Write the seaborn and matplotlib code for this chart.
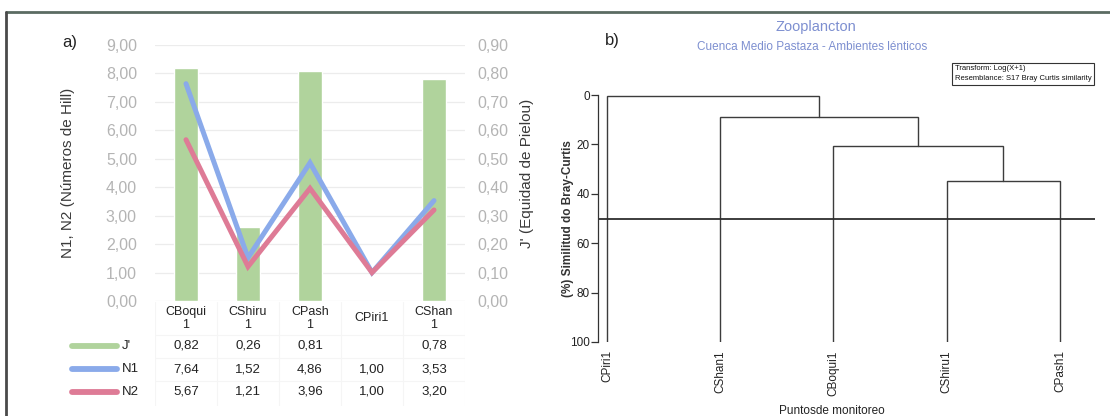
import numpy as np
import pandas as pd
import matplotlib
matplotlib.use("Agg")
import matplotlib.pyplot as plt
import matplotlib.transforms as mtransforms
import seaborn as sns

# ---- Panel a) data: diversity indices per monitoring point ----
puntos = ["CBoqui1", "CShiru1", "CPash1", "CPiri1", "CShan1"]
encabezados = ["CBoqui\n1", "CShiru\n1", "CPash\n1", "CPiri1", "CShan\n1"]
j_pielou = [0.82, 0.26, 0.81, np.nan, 0.78]
n1_hill = [7.64, 1.52, 4.86, 1.00, 3.53]
n2_hill = [5.67, 1.21, 3.96, 1.00, 3.20]
ticks_hill = [0, 1, 2, 3, 4, 5, 6, 7, 8, 9]
ticks_pielou = [0.0, 0.1, 0.2, 0.3, 0.4, 0.5, 0.6, 0.7, 0.8, 0.9]

# ---- Panel b) data: Bray-Curtis cluster (group average) ----
hojas = ["CPiri1", "CShan1", "CBoqui1", "CShiru1", "CPash1"]
# merges as (left member, right member, similarity %); members are leaf names
# or earlier merges ("m<k>")
uniones = [("CShiru1", "CPash1", 35.0),
           ("CBoqui1", "m0", 20.5),
           ("CShan1", "m1", 9.0),
           ("CPiri1", "m2", 0.4)]
corte = 50.0
ticks_sim = [0, 20, 40, 60, 80, 100]

VERDE = "#b0d39c"
AZUL = "#8aaaea"
ROJO = "#de7b96"
GRIS_TICK = "#b4b4b4"
TITULO_B = "#7d8fd0"

sns.set_theme(style="white")
plt.rcParams["font.family"] = ["Liberation Sans", "DejaVu Sans"]

df = pd.DataFrame({"punto": puntos, "J": j_pielou, "N1": n1_hill, "N2": n2_hill})

W, H = 1110, 416
fig = plt.figure(figsize=(W / 100, H / 100), dpi=100)
fig.patch.set_facecolor("white")


def box(x0, y0, x1, y1):
    """Pixel box (top-left origin) -> figure-fraction rect."""
    return [x0 / W, (H - y1) / H, (x1 - x0) / W, (y1 - y0) / H]


def coma(v):
    return f"{v:.2f}".replace(".", ",")


# ---------------- panel a) ----------------
ax_bar = fig.add_axes(box(155, 45, 465, 301))
ax_line = ax_bar.twinx()

sns.barplot(data=df, x="punto", y="J", order=puntos, color=VERDE,
            saturation=1, width=0.38, ax=ax_bar, zorder=2)
ax_bar.set_ylim(0, 0.9)
ax_bar.set_xlim(-0.5, len(puntos) - 0.5)
for v in ticks_pielou:
    ax_bar.axhline(v, color="#ececec", lw=0.9, zorder=0)

sns.lineplot(data=df, x="punto", y="N1", color=AZUL, lw=3.6, ax=ax_line,
             solid_joinstyle="miter")
sns.lineplot(data=df, x="punto", y="N2", color=ROJO, lw=3.6, ax=ax_line,
             solid_joinstyle="miter")
ax_line.set_ylim(0, 9)

# J' scale on the right, Hill numbers on the left
ax_bar.yaxis.tick_right()
ax_bar.yaxis.set_label_position("right")
ax_bar.set_yticks(ticks_pielou)
ax_bar.set_yticklabels([coma(v) for v in ticks_pielou], color=GRIS_TICK,
                       fontsize=11.5)
ax_bar.tick_params(axis="y", length=0, pad=9, left=False, labelleft=False,
                   right=True, labelright=True)
ax_bar.set_ylabel("J' (Equidad de Pielou)", fontsize=11, color="#3a3a3a",
                  labelpad=8)

ax_line.yaxis.tick_left()
ax_line.yaxis.set_label_position("left")
ax_line.set_yticks(ticks_hill)
ax_line.set_yticklabels([coma(v) for v in ticks_hill], color=GRIS_TICK,
                        fontsize=11.5)
ax_line.tick_params(axis="y", length=0, pad=13, right=False,
                    labelright=False, left=True, labelleft=True)
ax_line.set_ylabel("N1, N2 (Números de Hill)", fontsize=11, color="#3a3a3a",
                   labelpad=22)

for a in (ax_bar, ax_line):
    a.set_xlabel("")
    a.set_xticks([])
    for s in a.spines.values():
        s.set_visible(False)

fig.text(62 / W, 1 - 42 / H, "a)", fontsize=12, color="#222222",
         ha="left", va="center")

# data table under the chart
ax_tab = fig.add_axes(box(155, 302, 465, 406))
ax_tab.set_xlim(-0.5, len(puntos) - 0.5)
ax_tab.set_ylim(4, 0)
ax_tab.axis("off")
fil_y = [0.62, 1.69, 2.58, 3.46]
for i, lab in enumerate(encabezados):
    ax_tab.text(i, fil_y[0], lab, ha="center", va="center", fontsize=9,
                color="#222222", linespacing=1.1)
filas = [("J'", j_pielou, VERDE), ("N1", n1_hill, AZUL), ("N2", n2_hill, ROJO)]
trans = mtransforms.blended_transform_factory(fig.transFigure, ax_tab.transData)
for r, (nombre, vals, col) in enumerate(filas):
    y = fil_y[r + 1]
    for i, v in enumerate(vals):
        if not np.isnan(v):
            ax_tab.text(i, y, coma(v), ha="center", va="center",
                        fontsize=9.5, color="#222222")
    ax_tab.plot([72 / W, 117 / W], [y, y], color=col, lw=4.2,
                solid_capstyle="round", transform=trans, clip_on=False)
    ax_tab.text(122 / W, y, nombre, ha="left", va="center", fontsize=9.5,
                color="#222222", transform=trans, clip_on=False)
# faint cell rules
for k in range(len(puntos) + 1):
    ax_tab.axvline(k - 0.5, color="#f5f5f5", lw=0.8)
for y in (1.25, 2.15, 3.02):
    ax_tab.axhline(y, color="#f5f5f5", lw=0.8)

# ---------------- panel b) ----------------
ax_d = fig.add_axes(box(598, 95, 1095, 342))
pos = {h: float(i) for i, h in enumerate(hojas)}
alt = {h: 100.0 for h in hojas}
LC = "#3c3c3c"
for k, (a, b, s) in enumerate(uniones):
    xa, xb = pos[a], pos[b]
    ax_d.plot([xa, xa, xb, xb], [alt[a], s, s, alt[b]], color=LC, lw=1.0,
              solid_joinstyle="miter")
    pos[f"m{k}"] = (xa + xb) / 2
    alt[f"m{k}"] = s
ax_d.axhline(corte, color="#2e2e2e", lw=1.3)
ax_d.set_ylim(100, 0)
ax_d.set_xlim(-0.08, len(hojas) - 1 + 0.31)
ax_d.set_yticks(ticks_sim)
ax_d.set_yticklabels([str(t) for t in ticks_sim], fontsize=8.5,
                     color="#222222")
ax_d.tick_params(axis="y", direction="out", length=5, width=0.9,
                 color="#333333", pad=1, left=True)
ax_d.set_xticks(range(len(hojas)))
ax_d.set_xticklabels(hojas, rotation=90, fontsize=8.5, color="#222222")
ax_d.tick_params(axis="x", length=0, pad=6)
for side in ("top", "right", "bottom"):
    ax_d.spines[side].set_visible(False)
ax_d.spines["left"].set_color("#333333")
ax_d.spines["left"].set_linewidth(0.9)
ax_d.set_ylabel("(%) Similitud do Bray-Curtis", fontsize=8.5,
                fontweight="bold", color="#333333", labelpad=-3)
ax_d.set_xlabel("Puntosde monitoreo", fontsize=8.5, color="#222222")
ax_d.xaxis.set_label_coords(0.47, -0.255)

fig.text(605 / W, 1 - 40 / H, "b)", fontsize=12, color="#222222",
         ha="left", va="center")
fig.text(816 / W, 1 - 27 / H, "Zooplancton", fontsize=10.5,
         color=TITULO_B, ha="center", va="center")
fig.text(812 / W, 1 - 47 / H, "Cuenca Medio Pastaza - Ambientes lénticos",
         fontsize=8.5, color=TITULO_B, ha="center", va="center")
fig.text(955 / W, 1 - 74 / H,
         "Transform: Log(X+1)\nResemblance: S17 Bray Curtis similarity",
         fontsize=5.5, color="#111111", ha="left", va="center",
         linespacing=1.6,
         bbox=dict(boxstyle="square,pad=0.35", fc="white", ec="#333333", lw=0.8))

# outer frame lines
fig.add_artist(plt.Line2D([6 / W, 1.0], [1 - 12 / H, 1 - 12 / H],
                          transform=fig.transFigure, color="#5b6b62", lw=2))
fig.add_artist(plt.Line2D([6 / W, 6 / W], [0, 1 - 12 / H],
                          transform=fig.transFigure, color="#4a4a4a", lw=2))

fig.savefig("out.png", dpi=100, facecolor="white")
